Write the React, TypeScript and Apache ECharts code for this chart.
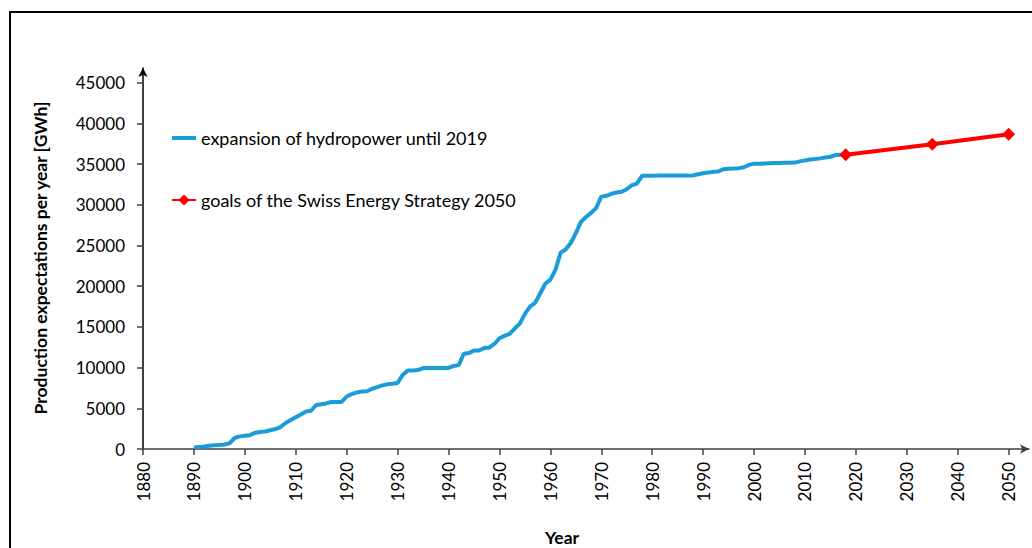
import React, { useEffect, useRef } from "react";
import * as echarts from "echarts";

const blueStartYear = 1890;
// Production expectation per year [GWh], one value per year 1890..2018
const hydroValues: number[] = [
  200, 250, 300, 400, 450, 500, 550, 700, 1350, 1550, // 1890-1899
  1630, 1700, 2000, 2100, 2150, 2300, 2450, 2700, 3200, 3550, // 1900-1909
  3900, 4250, 4600, 4700, 5400, 5500, 5600, 5770, 5780, 5780, // 1910-1919
  6450, 6750, 6950, 7070, 7100, 7400, 7600, 7810, 7950, 8020, // 1920-1929
  8100, 9100, 9650, 9650, 9700, 9940, 9950, 9950, 9950, 9950, // 1930-1939
  9960, 10200, 10300, 11700, 11780, 12100, 12100, 12400, 12450, 12900, // 1940-1949
  13600, 13900, 14150, 14800, 15400, 16600, 17500, 17950, 19100, 20300, // 1950-1959
  20800, 22000, 24100, 24500, 25300, 26500, 27900, 28500, 29000, 29600, // 1960-1969
  31000, 31100, 31350, 31500, 31600, 31900, 32400, 32600, 33550, 33550, // 1970-1979
  33560, 33580, 33580, 33580, 33580, 33580, 33580, 33580, 33600, 33750, // 1980-1989
  33880, 33950, 34050, 34100, 34370, 34420, 34450, 34500, 34600, 34900, // 1990-1999
  35050, 35050, 35080, 35100, 35120, 35130, 35150, 35160, 35180, 35330, // 2000-2009
  35450, 35550, 35620, 35700, 35800, 35900, 36100, 36150, 36150, // 2010-2018
];

const goalYears: number[] = [2018, 2035, 2050];
const goalValues: number[] = [36150, 37440, 38670];

const xTickYears: number[] = [1880, 1890, 1900, 1910, 1920, 1930, 1940, 1950, 1960, 1970, 1980, 1990, 2000, 2010, 2020, 2030, 2040, 2050];
const yTickValues: number[] = [0, 5000, 10000, 15000, 20000, 25000, 30000, 35000, 40000, 45000];

const seriesNames = ["expansion of hydropower until 2019", "goals of the Swiss Energy Strategy 2050"];

const FONT = "Lato, 'Open Sans', sans-serif";

export default function App() {
  const ref = useRef<HTMLDivElement>(null);

  useEffect(() => {
    if (!ref.current) return;
    const chart = echarts.init(ref.current, undefined, { renderer: "svg" });

    const hydroData = hydroValues.map((v, i) => [blueStartYear + i, v]);
    const goalData = goalYears.map((y, i) => [y, goalValues[i]]);

    chart.setOption({
      animation: false,
      backgroundColor: "#ffffff",
      textStyle: { fontFamily: FONT },
      grid: { left: 143, right: 3, top: 68, bottom: 99, containLabel: false },
      xAxis: {
        type: "value",
        min: 1880,
        max: 2054,
        interval: 10,
        splitLine: { show: false },
        axisLine: {
          show: true,
          lineStyle: { color: "#404040", width: 1.5 },
          symbol: ["none", "arrow"],
          symbolSize: [7, 9],
        },
        axisTick: {
          show: true,
          inside: false,
          length: 6,
          customValues: xTickYears,
          lineStyle: { color: "#404040", width: 1.5 },
        },
        axisLabel: {
          customValues: xTickYears,
          formatter: (v: number) => String(v),
          rotate: 90,
          margin: 13,
          fontSize: 17,
          color: "#000",
          fontFamily: FONT,
        },
      },
      yAxis: {
        type: "value",
        min: 0,
        max: 46800,
        interval: 5000,
        splitLine: { show: false },
        axisLine: {
          show: true,
          lineStyle: { color: "#000", width: 1.5 },
          symbol: ["none", "arrow"],
          symbolSize: [7, 9],
        },
        axisTick: {
          show: true,
          inside: false,
          length: 6,
          customValues: yTickValues,
          lineStyle: { color: "#404040", width: 1.5 },
        },
        axisLabel: {
          customValues: yTickValues,
          formatter: (v: number) => String(v),
          margin: 18,
          fontSize: 17,
          color: "#000",
          fontFamily: FONT,
        },
      },
      legend: {
        orient: "vertical",
        left: 166,
        top: 124,
        itemWidth: 24,
        itemHeight: 14,
        itemGap: 44,
        textStyle: { fontSize: 18, color: "#000", fontFamily: FONT },
        data: [
          { name: seriesNames[0], icon: "path://M0,6 L24,6 L24,10 L0,10 Z" },
          { name: seriesNames[1] },
        ],
      },
      series: [
        {
          name: seriesNames[0],
          type: "line",
          data: hydroData,
          showSymbol: false,
          symbol: "none",
          lineStyle: { color: "#1A9CD8", width: 4 },
          itemStyle: { color: "#1A9CD8" },
          z: 2,
        },
        {
          name: seriesNames[1],
          type: "line",
          data: goalData,
          symbol: "diamond",
          symbolSize: 13,
          lineStyle: { color: "#FF0000", width: 4 },
          itemStyle: { color: "#FF0000" },
          z: 3,
        },
      ],
      graphic: [
        {
          type: "rect",
          shape: { x: 10, y: 12, width: 1040, height: 560 },
          style: { fill: "none", stroke: "#000", lineWidth: 2 },
          silent: true,
        },
        {
          type: "text",
          x: 40,
          y: 258,
          rotation: Math.PI / 2,
          style: {
            text: "Production expectations per year [GWh]",
            fontSize: 17.5,
            fontWeight: "bold",
            fontFamily: FONT,
            fill: "#000",
            align: "center",
            verticalAlign: "middle",
          },
        },
        {
          type: "text",
          x: 562,
          y: 537,
          style: {
            text: "Year",
            fontSize: 17.5,
            fontWeight: "bold",
            fontFamily: FONT,
            fill: "#000",
            align: "center",
            verticalAlign: "middle",
          },
        },
      ],
    });

    return () => chart.dispose();
  }, []);

  return (
    <div
      ref={ref}
      style={{ position: "fixed", left: 0, top: 0, width: 1032, height: 548 }}
    />
  );
}
